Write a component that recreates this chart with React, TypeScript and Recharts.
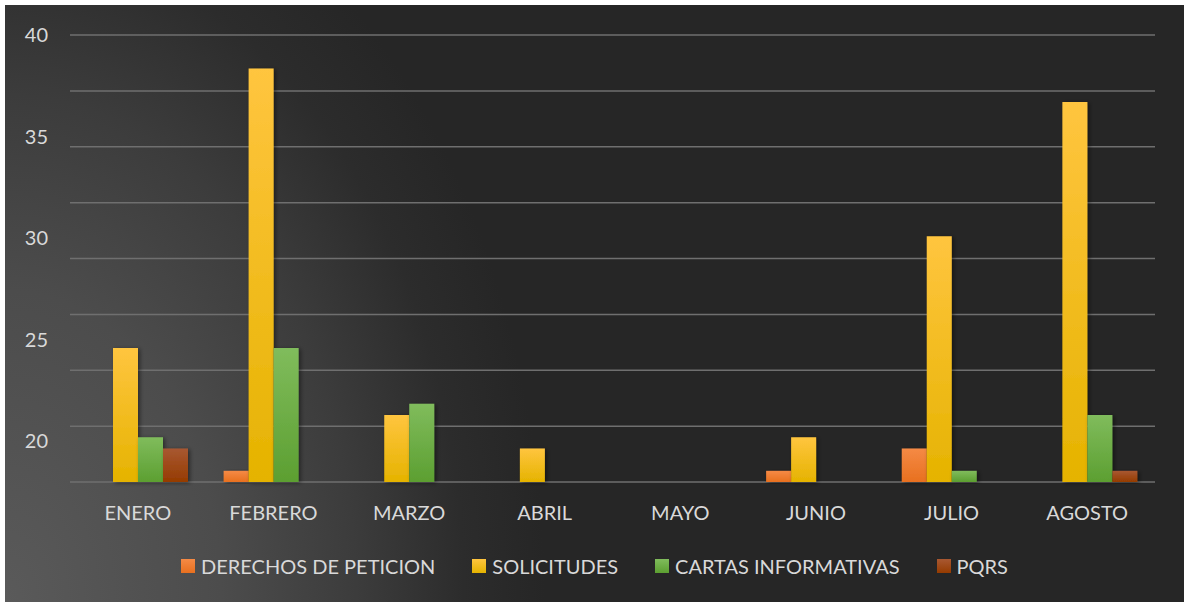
import React from 'react';
import { BarChart, Bar, XAxis, YAxis, CartesianGrid } from 'recharts';

const months = ['ENERO', 'FEBRERO', 'MARZO', 'ABRIL', 'MAYO', 'JUNIO', 'JULIO', 'AGOSTO'];
const derechos = [0, 1, 0, 0, 0, 1, 3, 0];
const solicitudes = [12, 37, 6, 3, 0, 4, 22, 34];
const cartas = [4, 12, 7, 0, 0, 0, 1, 6];
const pqrs = [3, 0, 0, 0, 0, 0, 0, 1];

const gridTicks = [0, 5, 10, 15, 20, 25, 30, 35, 40];
const labelTicks = [20, 25, 30, 35, 40];

const series = [
    { key: 'derechos', name: 'DERECHOS DE PETICION', top: '#F58A45', bottom: '#E8701F' },
    { key: 'solicitudes', name: 'SOLICITUDES', top: '#FFC53F', bottom: '#E5B300' },
    { key: 'cartas', name: 'CARTAS INFORMATIVAS', top: '#80BC5C', bottom: '#5C9F31' },
    { key: 'pqrs', name: 'PQRS', top: '#A85832', bottom: '#953B00' },
];

const data = months.map((m, i) => ({
    month: m,
    derechos: derechos[i],
    solicitudes: solicitudes[i],
    cartas: cartas[i],
    pqrs: pqrs[i],
}));

const textColor = '#d9d9d9';
const font = 'Lato, "Open Sans", sans-serif';

function LegendBox() {
    return (
        <div
            style={{
                position: 'absolute',
                top: 549,
                left: 0,
                width: 1179,
                display: 'flex',
                justifyContent: 'center',
                gap: 37,
                fontFamily: font,
                fontSize: 20,
                color: textColor,
            }}
        >
            {series.map((s) => (
                <div key={s.key} style={{ display: 'flex', alignItems: 'center' }}>
                    <span style={{ width: 14, height: 14, marginRight: 6, background: `linear-gradient(${s.top}, ${s.bottom})` }} />
                    <span>{s.name}</span>
                </div>
            ))}
        </div>
    );
}

export default function App() {
    return (
        <div
            style={{
                position: 'absolute',
                left: 5,
                top: 5,
                width: 1179,
                height: 597,
                background: 'radial-gradient(ellipse 540px 780px at 0% 100%, #5a5a5a 0%, #4c4c4c 40%, #3c3c3c 65%, #2c2c2c 85%, #262626 100%)',
                overflow: 'hidden',
            }}
        >
            <BarChart
                width={1179}
                height={597}
                data={data}
                margin={{ top: 30, right: 29, left: 0, bottom: 90 }}
                barGap={0}
            >
                <defs>
                    {series.map((s) => (
                        <linearGradient key={s.key} id={`grad-${s.key}`} x1="0" y1="0" x2="0" y2="1">
                            <stop offset="0%" stopColor={s.top} />
                            <stop offset="100%" stopColor={s.bottom} />
                        </linearGradient>
                    ))}
                    <filter id="barShadow" x="-30%" y="-10%" width="160%" height="120%">
                        <feDropShadow dx="2" dy="1" stdDeviation="2" floodColor="#000" floodOpacity="0.45" />
                    </filter>
                </defs>
                <CartesianGrid
                    yAxisId="v"
                    vertical={false}
                    stroke="#6f6f6f"
                    strokeWidth={1.5}
                />
                <XAxis
                    dataKey="month"
                    axisLine={false}
                    tickLine={false}
                    tickSize={0}
                    tickMargin={24}
                    interval={0}
                    tick={{ fontSize: 20, fill: textColor, fontFamily: font }}
                />
                <YAxis
                    yAxisId="v"
                    domain={[0, 40]}
                    ticks={gridTicks}
                    hide
                />
                <YAxis
                    yAxisId="lbl"
                    domain={[18, 40]}
                    ticks={labelTicks}
                    allowDataOverflow
                    width={65}
                    axisLine={false}
                    tickLine={false}
                    tickSize={0}
                    tickMargin={22}
                    tick={{ fontSize: 20, fill: textColor, fontFamily: font }}
                />
                {series.map((s) => (
                    <Bar
                        key={s.key}
                        yAxisId="v"
                        dataKey={s.key}
                        name={s.name}
                        barSize={25}
                        fill={`url(#grad-${s.key})`}
                        filter="url(#barShadow)"
                        isAnimationActive={false}
                    />
                ))}
            </BarChart>
            <LegendBox />
        </div>
    );
}
